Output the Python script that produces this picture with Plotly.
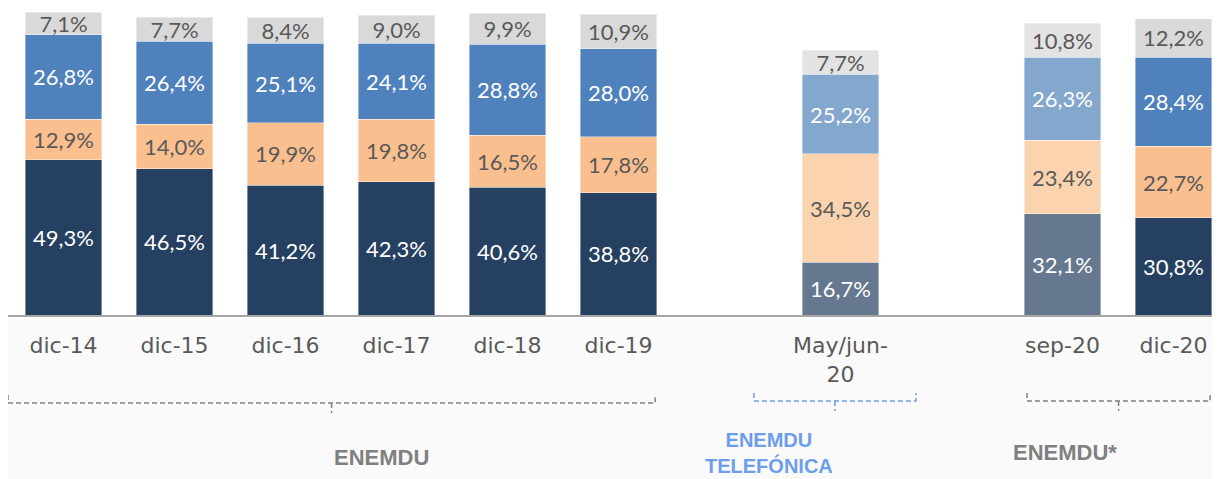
import plotly.graph_objects as go

# ---- data ----
categories = ["dic-14", "dic-15", "dic-16", "dic-17", "dic-18", "dic-19", "May/jun-20", "sep-20", "dic-20"]
tick_labels = ["dic-14", "dic-15", "dic-16", "dic-17", "dic-18", "dic-19", "May/jun-<br>20", "sep-20", "dic-20"]
slot_order = ["dic-14", "dic-15", "dic-16", "dic-17", "dic-18", "dic-19", " ", "May/jun-20", "  ", "sep-20", "dic-20"]
faded = [False, False, False, False, False, False, True, True, False]

serie_1 = [49.3, 46.5, 41.2, 42.3, 40.6, 38.8, 16.7, 32.1, 30.8]
serie_2 = [12.9, 14.0, 19.9, 19.8, 16.5, 17.8, 34.5, 23.4, 22.7]
serie_3 = [26.8, 26.4, 25.1, 24.1, 28.8, 28.0, 25.2, 26.3, 28.4]
serie_4 = [7.1, 7.7, 8.4, 9.0, 9.9, 10.9, 7.7, 10.8, 12.2]
series_names = ["Serie 1", "Serie 2", "Serie 3", "Serie 4"]

group_labels = ["ENEMDU", "ENEMDU<br>TELEFÓNICA", "ENEMDU*"]
group_first = ["dic-14", "May/jun-20", "sep-20"]
group_last = ["dic-19", "May/jun-20", "dic-20"]

# ---- styles ----
colors = ["#254060", "#F9BF8F", "#4F81BD", "#D9D9D9"]
faded_colors = ["#65788F", "#FBD3AF", "#84A7CE", "#E3E3E3"]
text_colors = ["white", "#595959", "white", "#595959"]
group_colors = ["#808080", "#6D9EEB", "#808080"]
group_pads = [(0.50, 0.33), (0.78, 0.68), (0.32, 0.33)]   # slot padding left/right
group_line_y = [88, 86, 86]          # px below baseline
group_text_y = [142, 112, 137]       # px below baseline (center / top)
LABEL_FONT = "Lato, Century Gothic, sans-serif"
TICK_FONT = "DejaVu Sans, Century Gothic, sans-serif"
GROUP_FONT = "Liberation Sans, Arial, sans-serif"

# page body has an 8px margin: figure sits at (8, 8)
W, H = 1212, 471
ML, MR, MT, MB = 0, 0, 0, 164
PX_PER_UNIT = 3.15
SLOT_PX = 111.0
plot_w = W - ML - MR
plot_h = H - MT - MB
X_RANGE = [-0.5, -0.5 + plot_w / SLOT_PX]
Y_RANGE = [0, plot_h / PX_PER_UNIT]

fig = go.Figure()
for name, vals, col, fcol, tcol in zip(series_names, [serie_1, serie_2, serie_3, serie_4],
                                       colors, faded_colors, text_colors):
    fig.add_trace(go.Bar(
        name=name,
        x=categories,
        y=vals,
        width=0.685,
        marker=dict(color=[fcol if f else col for f in faded],
                    line=dict(color="rgba(255,255,255,0.5)", width=0.8)),
        text=[f"{v:.1f}%".replace(".", ",") for v in vals],
        textposition="inside",
        insidetextanchor="middle",
        textangle=0,
        textfont=dict(family=LABEL_FONT, size=22, color=tcol),
        hoverinfo="skip",
    ))


def slot_x(cat):
    return slot_order.index(cat)


def paper_x(slot):
    return (slot - X_RANGE[0]) / (X_RANGE[1] - X_RANGE[0])


def paper_y_px(px_below_base):
    return -px_below_base / plot_h


# faint background under the axis
shapes = [dict(type="rect", xref="paper", yref="paper", x0=0, x1=1,
               y0=paper_y_px(4), y1=paper_y_px(MB + 10),
               fillcolor="#FAFAFB", line=dict(width=0), layer="below")]
annotations = []
for label, first, last, gcol, (pl, pr), ly, ty in zip(group_labels, group_first, group_last,
                                                      group_colors, group_pads, group_line_y, group_text_y):
    x0 = paper_x(slot_x(first) - pl)
    x1 = paper_x(slot_x(last) + pr)
    xm = (x0 + x1) / 2
    yb = paper_y_px(ly)
    ytop = paper_y_px(ly - 8)
    ybot = paper_y_px(ly + 10)
    line = dict(color=gcol, width=1.5, dash="5px,3px")
    path = f"M {x0} {ytop} L {x0} {yb} L {x1} {yb} L {x1} {ytop}"
    shapes.append(dict(type="path", xref="paper", yref="paper", path=path, line=line))
    shapes.append(dict(type="line", xref="paper", yref="paper", x0=xm, x1=xm, y0=yb, y1=ybot, line=line))
    two_lines = "<br>" in label
    annotations.append(dict(
        x=xm, y=paper_y_px(ty), xref="paper", yref="paper",
        text=f"<b>{label}</b>", showarrow=False,
        yanchor="top" if two_lines else "middle", align="center",
        font=dict(family=GROUP_FONT, size=22 if not two_lines else 20, color=gcol),
    ))

fig.update_layout(
    barmode="stack",
    width=W, height=H,
    margin=dict(l=ML, r=MR, t=MT, b=MB),
    paper_bgcolor="white",
    plot_bgcolor="white",
    showlegend=False,
    uniformtext=dict(minsize=22, mode="show"),
    xaxis=dict(
        type="category",
        categoryorder="array",
        categoryarray=slot_order,
        range=X_RANGE,
        tickmode="array",
        tickvals=categories,
        ticktext=tick_labels,
        ticks="",
        ticklabelstandoff=10,
        showline=True,
        linecolor="#A6A6A6",
        linewidth=2,
        showgrid=False,
        tickfont=dict(family=TICK_FONT, size=22, color="#595959"),
    ),
    yaxis=dict(range=Y_RANGE, visible=False, showgrid=False, zeroline=False),
    shapes=shapes,
    annotations=annotations,
)

fig.write_html("out.html")
